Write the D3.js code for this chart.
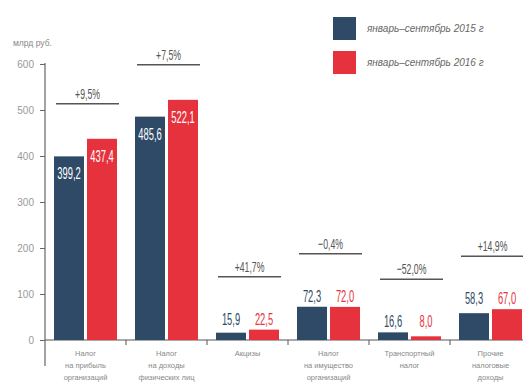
<!DOCTYPE html>
<html>
<head>
<meta charset="utf-8">
<script src="https://cdn.jsdelivr.net/npm/d3@7"></script>
<style>
  body { margin: 0; background: #fff; }
  text { font-family: "Liberation Sans", "DejaVu Sans", sans-serif; }
</style>
</head>
<body>
<svg id="chart" width="523" height="388"></svg>
<script>
// data
const categories = [
  ["Налог", "на прибыль", "организаций"],
  ["Налог", "на доходы", "физических лиц"],
  ["Акцизы"],
  ["Налог", "на имущество", "организаций"],
  ["Транспортный", "налог"],
  ["Прочие", "налоговые", "доходы"]
];
const values2015 = [399.2, 485.6, 15.9, 72.3, 16.6, 58.3];
const values2016 = [437.4, 522.1, 22.5, 72.0, 8.0, 67.0];
const changeLabels = ["+9,5%", "+7,5%", "+41,7%", "\u22120,4%", "\u221252,0%", "+14,9%"];
const yTicks = [0, 100, 200, 300, 400, 500, 600];
const seriesNames = ["январь\u2013сентябрь 2015 г", "январь\u2013сентябрь 2016 г"];
const colors = ["#2f4a66", "#e5323d"];

const svg = d3.select("#chart");
const fmt = v => v.toFixed(1).replace(".", ",");

const x = d3.scaleBand().domain(d3.range(categories.length)).range([45, 531]).paddingInner(0).paddingOuter(0);
const y = d3.scaleLinear().domain([0, 600]).range([340, 64]);
const barW = 30, gap = 3, offs = 9;

// y axis
const yAxis = svg.append("g")
  .attr("transform", "translate(45,0)")
  .call(d3.axisLeft(y).tickValues(yTicks).tickSize(5).tickPadding(6));
yAxis.select(".domain").remove();
yAxis.selectAll("line").attr("stroke", "#666");
yAxis.selectAll("text").attr("fill", "#999").attr("font-size", 10).attr("font-family", "Liberation Sans");
svg.append("line").attr("x1", 45).attr("x2", 45).attr("y1", 63).attr("y2", 366)
  .attr("stroke", "#666").attr("stroke-width", 1.2);

svg.append("text").attr("x", 13).attr("y", 46).attr("font-size", 8.5).attr("fill", "#888")
  .text("млрд руб.");

// x baseline and group ticks
svg.append("line").attr("x1", 45).attr("x2", 523).attr("y1", y(0)).attr("y2", y(0))
  .attr("stroke", "#555").attr("stroke-width", 1.2);
svg.selectAll(".xtick").data(d3.range(1, categories.length)).enter().append("line")
  .attr("x1", d => x(d)).attr("x2", d => x(d))
  .attr("y1", y(0)).attr("y2", y(0) + 5)
  .attr("stroke", "#555");

// bars
const series = [values2015, values2016];
series.forEach((vals, s) => {
  svg.selectAll(".bar" + s).data(vals).enter().append("rect")
    .attr("x", (d, i) => x(i) + offs + s * (barW + gap))
    .attr("y", d => y(d))
    .attr("width", barW)
    .attr("height", d => y(0) - y(d))
    .attr("fill", colors[s]);

  svg.selectAll(".val" + s).data(vals).enter().append("text")
    .attr("transform", (d, i) => {
      const cx = x(i) + offs + s * (barW + gap) + barW / 2;
      const inside = values2015[i] > 100;
      const ty = inside ? y(d) + 23 : y(Math.max(values2015[i], values2016[i])) - 5;
      return "translate(" + cx + "," + ty + ") scale(0.55,1)";
    })
    .attr("text-anchor", "middle")
    .attr("font-size", 17)
    .attr("fill", (d, i) => values2015[i] > 100 ? "#fff" : colors[s])
    .text(d => fmt(d));
});

// change labels with lines
categories.forEach((c, i) => {
  const top = Math.max(values2015[i], values2016[i]);
  const inside = values2015[i] > 100;
  const ly = y(top) - (inside ? 35 : 53);
  const x0 = x(i) + offs + 2, x1 = x(i) + offs + 2 * barW + gap + 2;
  svg.append("line").attr("x1", x0).attr("x2", x1).attr("y1", ly).attr("y2", ly)
    .attr("stroke", "#555").attr("stroke-width", 1.5);
  svg.append("text")
    .attr("transform", "translate(" + ((x0 + x1) / 2) + "," + (ly - 5) + ") scale(0.58,1)")
    .attr("text-anchor", "middle").attr("font-size", 15).attr("fill", "#555")
    .text(changeLabels[i]);
});

// category labels
categories.forEach((lines, i) => {
  const t = svg.append("text").attr("text-anchor", "middle").attr("font-size", 7.5).attr("fill", "#888");
  lines.forEach((ln, k) => {
    t.append("tspan").attr("x", x(i) + offs + barW + gap / 2).attr("y", 356 + k * 12).text(ln);
  });
});

// legend
seriesNames.forEach((n, s) => {
  svg.append("rect").attr("x", 333).attr("y", 17 + s * 34).attr("width", 23).attr("height", 23).attr("fill", colors[s]);
  svg.append("text").attr("x", 367).attr("y", 32 + s * 34).attr("font-size", 10).attr("fill", "#666")
    .attr("font-style", "italic").text(n);
});
</script>
</body>
</html>
